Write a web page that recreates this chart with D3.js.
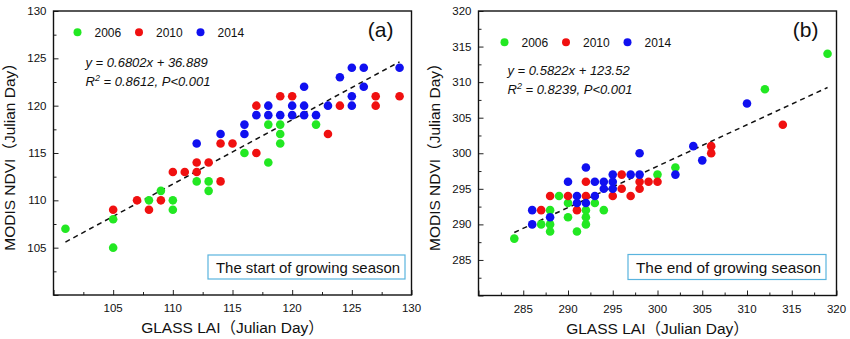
<!DOCTYPE html>
<html>
<head>
<meta charset="utf-8">
<script src="https://cdn.jsdelivr.net/npm/d3@7"></script>
<style>
  html, body { margin: 0; padding: 0; background: #fff; }
  svg { display: block; }
  text { font-family: "Liberation Sans", Arial, "Noto Sans CJK SC", sans-serif; fill: #111; }
</style>
</head>
<body>
<svg id="chart" width="850" height="339"></svg>
<script>
// ---- (a) start of growing season: [GLASS LAI, MODIS NDVI] ----
const sosYear2006 = [[101,107],[105,105],[105,108],[108,110],[109,111],[110,110],[110,109],[112,112],[113,112],[113,111],[116,115],[118,114],[118,118],[119,118],[119,117],[119,116],[122,118]];
const sosYear2010 = [[105,109],[107,110],[108,109],[109,110],[110,113],[111,113],[112,113],[112,114],[113,114],[114,112],[114,116],[115,116],[117,115],[117,120],[119,121],[120,121],[123,117],[124,120],[127,120],[127,121],[129,121]];
const sosYear2014 = [[112,116],[114,117],[116,117],[116,118],[117,119],[118,119],[118,120],[119,119],[120,119],[120,120],[121,119],[121,120],[121,122],[122,119],[123,120],[124,123],[125,120],[125,121],[125,124],[126,122],[126,124],[129,124]];
const sosFit = { slope: 0.6802, intercept: 36.889, r2: "0.8612", xFrom: 101, xTo: 129 };
const sosTicks = [105, 110, 115, 120, 125, 130];

// ---- (b) end of growing season ----
const eosYear2006 = [[284,288],[287,290],[288,289],[288,290],[288,292],[289,294],[290,291],[290,293],[291,289],[292,290],[292,291],[292,292],[293,293],[294,292],[300,297],[302,298],[312,309],[319,314]];
const eosYear2010 = [[287,292],[288,294],[290,294],[291,292],[292,294],[292,296],[295,294],[296,295],[296,297],[297,294],[298,295],[298,296],[299,296],[300,296],[306,300],[306,301],[314,304]];
const eosYear2014 = [[286,290],[286,292],[288,291],[290,296],[291,293],[291,294],[292,293],[292,298],[293,294],[293,296],[294,295],[294,296],[295,295],[295,296],[295,297],[297,297],[298,297],[298,300],[302,297],[304,301],[305,299],[310,307]];
const eosFit = { slope: 0.5822, intercept: 123.52, r2: "0.8239", xFrom: 284, xTo: 319 };
const eosTicks = [285, 290, 295, 300, 305, 310, 315, 320];

const years = ["2006", "2010", "2014"];
const yearColors = ["#22e822", "#f01010", "#1010f0"];

const svg = d3.select("#chart");

function drawPanel(opt) {
  const { left, right, top, bottom, domain, ticks, series, fit, tag, note, legendY, eqY, box } = opt;
  const x = d3.scaleLinear().domain(domain).range([left, right]);
  const y = d3.scaleLinear().domain(domain).range([bottom, top]);
  const g = svg.append("g");

  // minor ticks every 2.5, major every 5, pointing inward
  const minor = d3.range(domain[0], domain[1] + 0.01, 2.5);
  const xAxis = d3.axisBottom(x).tickValues(minor).tickSize(-3).tickFormat("");
  const yAxis = d3.axisLeft(y).tickValues(minor).tickSize(-3).tickFormat("");
  g.append("g").attr("transform", `translate(0,${bottom})`).call(xAxis)
    .call(s => s.select(".domain").remove())
    .selectAll("line").attr("stroke", "#222")
    .attr("y2", d => (d % 5 === 0 ? -5 : -3));
  g.append("g").attr("transform", `translate(${left},0)`).call(yAxis)
    .call(s => s.select(".domain").remove())
    .selectAll("line").attr("stroke", "#222")
    .attr("x2", d => (d % 5 === 0 ? 5 : 3));

  // tick labels
  g.append("g").selectAll("text").data(ticks).join("text")
    .attr("x", d => x(d)).attr("y", bottom + 17)
    .attr("text-anchor", "middle").attr("font-size", 11.5).text(d => d);
  g.append("g").selectAll("text").data(ticks).join("text")
    .attr("x", left - 7).attr("y", d => y(d) + 4)
    .attr("text-anchor", "end").attr("font-size", 11.5).text(d => d);

  // frame
  g.append("rect").attr("x", left).attr("y", top)
    .attr("width", right - left).attr("height", bottom - top)
    .attr("fill", "none").attr("stroke", "#111").attr("stroke-width", 1.4);

  // regression line
  g.append("line")
    .attr("x1", x(fit.xFrom)).attr("y1", y(fit.slope * fit.xFrom + fit.intercept))
    .attr("x2", x(fit.xTo)).attr("y2", y(fit.slope * fit.xTo + fit.intercept))
    .attr("stroke", "#111").attr("stroke-width", 1.5).attr("stroke-dasharray", "5,4");

  // points
  series.forEach((pts, i) => {
    g.append("g").selectAll("circle").data(pts).join("circle")
      .attr("cx", d => x(d[0])).attr("cy", d => y(d[1])).attr("r", 4.3)
      .attr("fill", yearColors[i]);
  });

  // legend
  const lg = g.append("g");
  years.forEach((yr, i) => {
    const lx = left + opt.legendX + i * 61.5;
    lg.append("circle").attr("cx", lx).attr("cy", legendY).attr("r", 4).attr("fill", yearColors[i]);
    lg.append("text").attr("x", lx + 17).attr("y", legendY + 4.5).attr("font-size", 12).text(yr);
  });

  // equation
  const eq = g.append("g").attr("font-style", "italic").attr("font-size", 13);
  eq.append("text").attr("x", left + opt.eqX).attr("y", eqY)
    .text(`y = ${fit.slope}x + ${fit.intercept}`);
  const r2 = eq.append("text").attr("x", left + opt.eqX).attr("y", eqY + 18.5);
  r2.append("tspan").text("R");
  r2.append("tspan").attr("dy", -5).attr("font-size", 9).text("2");
  r2.append("tspan").attr("dy", 5).text(` = ${fit.r2},  P<0.001`);

  // panel tag
  g.append("text").attr("x", right - 18).attr("y", top + 26)
    .attr("text-anchor", "end").attr("font-size", 21).text(tag);

  // caption box
  g.append("rect").attr("x", box[0]).attr("y", box[1]).attr("width", box[2]).attr("height", box[3])
    .attr("fill", "#fff").attr("stroke", "#5ab4de").attr("stroke-width", 1.2);
  g.append("text").attr("x", box[0] + 8).attr("y", box[1] + box[3] / 2 + 5.5)
    .attr("font-family", "'Open Sans', 'Noto Sans', sans-serif").attr("font-size", 15)
    .attr("textLength", box[2] - 13).attr("lengthAdjust", "spacingAndGlyphs").text(note);

  // axis titles
  g.append("text").attr("x", (left + right) / 2).attr("y", bottom + 38)
    .attr("text-anchor", "middle").attr("font-size", 15.5).text("GLASS LAI（Julian Day）");
  g.append("text").attr("transform", `translate(${left - 39},${(top + bottom) / 2}) rotate(-90)`)
    .attr("text-anchor", "middle").attr("font-size", 15.5).text("MODIS NDVI（Julian Day）");
}

drawPanel({
  left: 53.5, right: 411.5, top: 11, bottom: 295, domain: [100, 130], ticks: sosTicks,
  series: [sosYear2006, sosYear2010, sosYear2014], fit: sosFit, tag: "(a)",
  note: "The start of growing season", legendX: 24, legendY: 32.3, eqX: 32, eqY: 67,
  box: [208, 255, 197, 24]
});

drawPanel({
  left: 478.5, right: 836.5, top: 11, bottom: 295.5, domain: [280, 320], ticks: eosTicks,
  series: [eosYear2006, eosYear2010, eosYear2014], fit: eosFit, tag: "(b)",
  note: "The end of growing season", legendX: 26, legendY: 42.3, eqX: 29, eqY: 75,
  box: [628, 254.5, 198, 25]
});
</script>
</body>
</html>
